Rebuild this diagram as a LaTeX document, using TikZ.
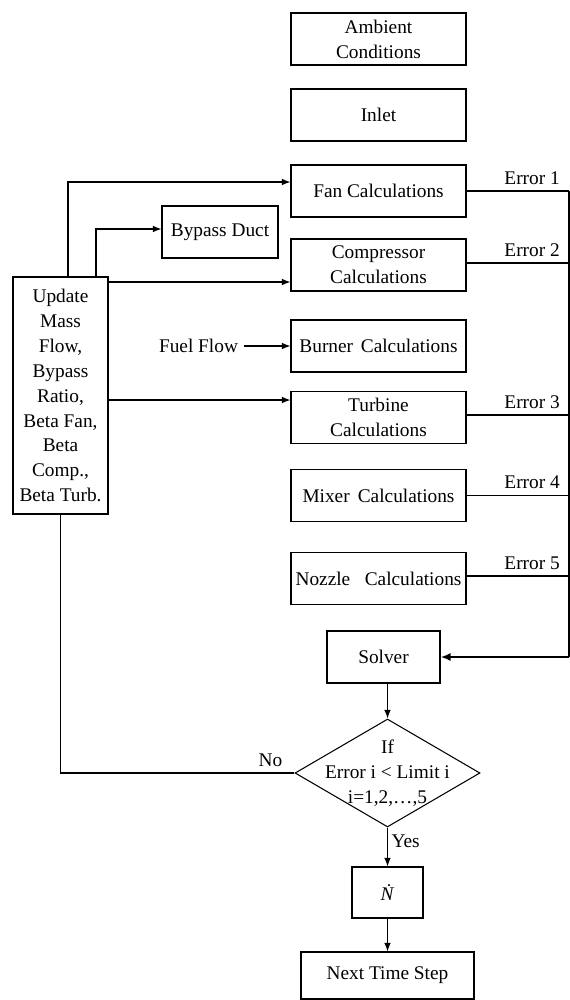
\documentclass[tikz,border=0pt]{standalone}
\usepackage{fontspec}
\setmainfont{Liberation Serif}
\usetikzlibrary{arrows.meta,shapes.geometric,positioning,calc}

\begin{document}
\begin{tikzpicture}[
	every node/.style={font=\fontsize{11}{14.2}\selectfont},
	block/.style={draw,line width=0.6pt,minimum width=3.5cm,minimum height=1.04cm,align=center,inner sep=1pt},
	decision/.style={draw,diamond,line width=0.6pt,minimum width=3.7cm,minimum height=2.16cm,inner sep=0pt},
	arr/.style={line width=0.6pt,-{Latex[length=1.7mm,width=1.3mm]}},
	link/.style={line width=0.6pt}]
	\useasboundingbox (0,0) rectangle (11.4,-20);
	% engine components
	\node[block] (ambient) at (7.57,-0.78) {Ambient\\Conditions};
	\node[block] (inlet) at (7.57,-2.30) {Inlet};
	\node[block] (fan) at (7.57,-3.82) {Fan Calculations};
	\node[block] (comp) at (7.57,-5.30) {Compressor\\Calculations};
	\node[block] (burner) at (7.57,-6.92) {Burner\hspace{0.4em}Calculations};
	\node[block] (turbine) at (7.57,-8.35) {Turbine\\Calculations};
	\node[block] (mixer) at (7.57,-9.91) {Mixer\hspace{0.42em}Calculations};
	\node[block] (nozzle) at (7.57,-11.57) {Nozzle\hspace{0.75em}Calculations};
	\node[block,minimum width=2.32cm] (bypass) at (4.40,-4.64) {Bypass Duct};
	\node (fuel) at (3.97,-6.92) {Fuel Flow};
	\node[block,minimum width=1.9cm,minimum height=4.74cm] (update) at (1.21,-7.91) {Update\\Mass\\Flow,\\Bypass\\Ratio,\\Beta Fan,\\Beta\\Comp.,\\Beta Turb.};
	% solver loop
	\node[block,minimum width=2.26cm] (solver) at (7.67,-13.14) {Solver};
	\node[decision] (test) at (7.75,-15.46) {};
	\node[align=center] (testtext) at (test) {If\\Error i < Limit i\\i=1,2,\ldots,5};
	\node[block,minimum width=1.42cm,minimum height=1.02cm] (ndot) at (7.75,-17.85) {\textit{\.{N}}};
	\node[block,minimum width=3.46cm,minimum height=0.94cm] (next) at (7.75,-19.51) {Next Time Step};
	\coordinate (bus) at (11.38,-3.82);
	% update arrows
	\draw[arr] ([xshift=0.15cm]update.north) |- ([yshift=0.18cm]fan.west);
	\draw[arr] ([xshift=0.71cm]update.north) |- ([yshift=0.06cm]bypass.west);
	\coordinate (c2) at ([yshift=-0.34cm]comp.west);
	\draw[arr] (c2 -| update.east) -- (c2);
	\coordinate (t2) at ([yshift=0.35cm]turbine.west);
	\draw[arr] (t2 -| update.east) -- (t2);
	\draw[arr] (fuel.east) -- (burner.west);
	% errors
	\draw[link] (fan.east) -- (fan.east -| bus) node[above,pos=0.64] {Error 1};
	\draw[link] ([yshift=0.04cm]comp.east) -- ([yshift=0.04cm]comp.east -| bus) node[above,pos=0.64] {Error 2};
	\draw[link] ([yshift=0.05cm]turbine.east) -- ([yshift=0.05cm]turbine.east -| bus) node[above,pos=0.64] {Error 3};
	\draw[link] (mixer.east) -- (mixer.east -| bus) node[above,pos=0.64] {Error 4};
	\draw[link] ([yshift=0.05cm]nozzle.east) -- ([yshift=0.05cm]nozzle.east -| bus) node[above,pos=0.64] {Error 5};
	\draw[link] (bus) -- (solver.east -| bus);
	\draw[line width=1.2pt,-{Latex[length=2mm,width=1.6mm]}] (solver.east -| bus) -- (solver.east);
	% decision
	\draw[arr] (solver.south -| test.north) -- (test.north);
	\draw[arr] (test.south) -- (ndot.north) node[right,pos=0.35,inner sep=2pt] {Yes};
	\draw[arr] (ndot.south) -- (next.north);
	\draw[link] (test.west) -| (update.south);
	\node[above left,xshift=-0.12cm] (nolabel) at (test.west) {No};
\end{tikzpicture}
\end{document}
